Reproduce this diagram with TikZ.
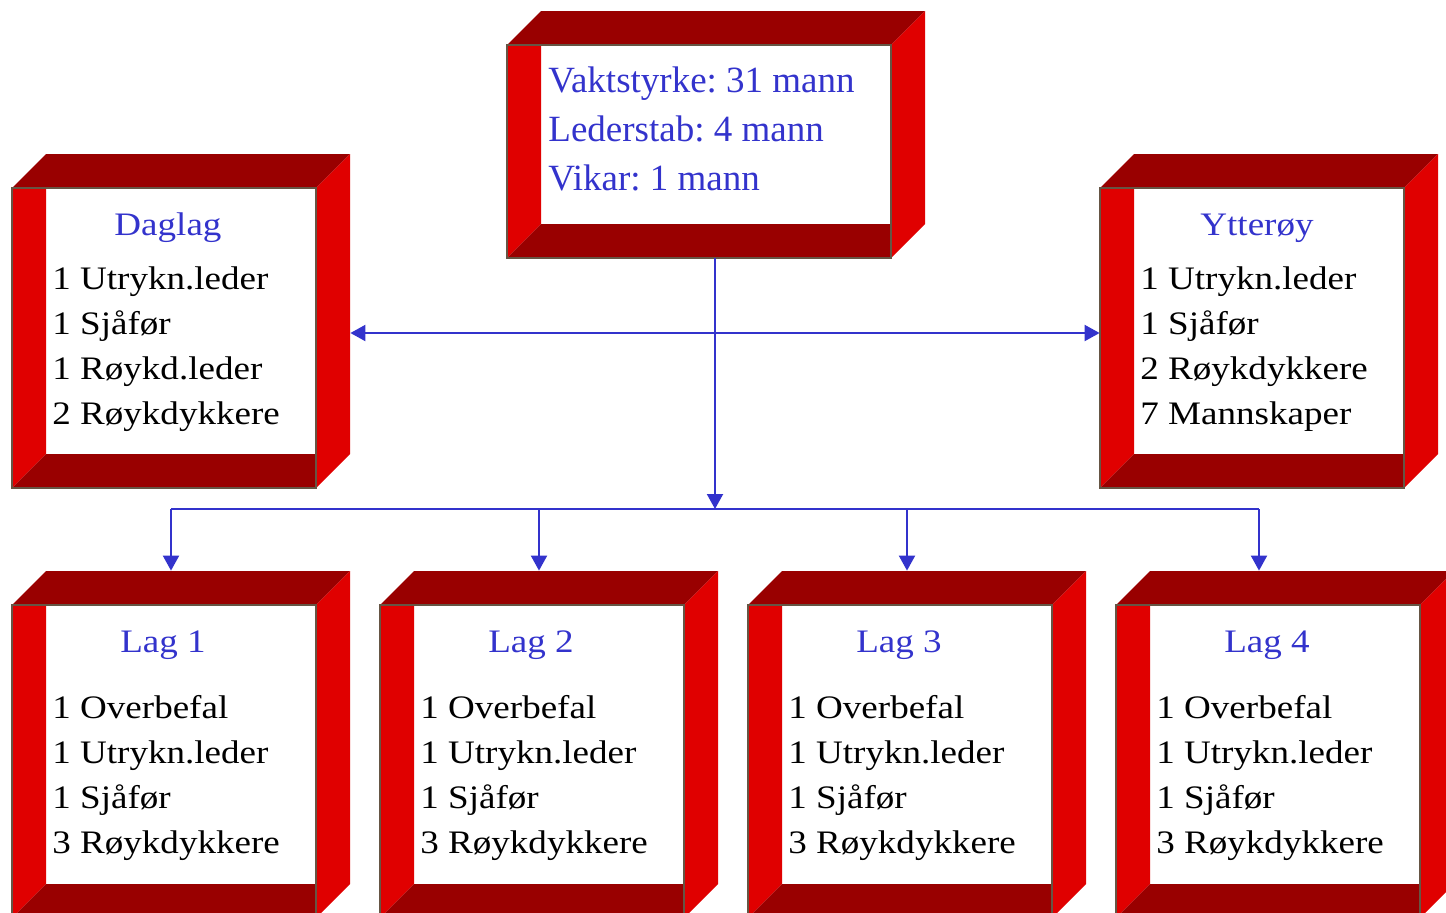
\documentclass[tikz,border=0pt]{standalone}
\usepackage{fontspec}
\usepackage{xcolor}
\usepackage{tikz}
\usetikzlibrary{arrows.meta,fit}
\setmainfont{Liberation Serif}
\newfontfamily\wideserif[FakeStretch=1.13]{Liberation Serif}
\frenchspacing

\definecolor{sidered}{HTML}{E00000}
\definecolor{topred}{HTML}{990000}
\definecolor{rimbrown}{HTML}{665544}
\definecolor{crewblue}{HTML}{3333CC}

\tikzset{
  rim/.style={draw=rimbrown, line width=1pt},
  link/.style={draw=crewblue, line width=1pt},
  linkarrow/.style={link, -{Triangle[length=7.5pt,width=8pt]}},
  headtxt/.style={text=crewblue, inner sep=0pt, font=\wideserif\fontsize{16.4}{22.5}\selectfont},
  listtxt/.style={inner sep=0pt, font=\wideserif\fontsize{16.4}{22.5}\selectfont},
  toptxt/.style={text=crewblue, inner sep=0pt, font=\fontsize{18.5}{24.5}\selectfont}
}

% #1 name, #2 x, #3 y (front top left), #4 width, #5 height
\newcommand{\redframe}[5]{
  \fill[sidered] (#2,#3) -- (#2+34,#3) -- (#2+34,#3+#5-34) -- (#2,#3+#5) -- cycle;
  \fill[topred] (#2,#3+#5) -- (#2+34,#3+#5-34) -- (#2+#4,#3+#5-34) -- (#2+#4,#3+#5) -- cycle;
  \fill[topred] (#2,#3) -- (#2+34,#3-34) -- (#2+#4+34,#3-34) -- (#2+#4,#3) -- cycle;
  \fill[sidered] (#2+#4,#3) -- (#2+#4+34,#3-34) -- (#2+#4+34,#3+#5-34) -- (#2+#4,#3+#5) -- cycle;
  \draw[rim] (#2,#3) rectangle (#2+#4,#3+#5);
  \coordinate (#1-nw) at (#2,#3-34);
  \coordinate (#1-se) at (#2+#4+34,#3+#5);
  \node[inner sep=0pt, fit=(#1-nw)(#1-se)] (#1) {};
}

\begin{document}
\begin{tikzpicture}[x=0.5pt, y=-0.5pt]
\useasboundingbox (0,0) rectangle (1446,912);
\clip (0,0) rectangle (1446,912);

\redframe{staff}{507}{45}{384}{213}
\redframe{daglag}{12}{188}{304}{300}
\redframe{ytteroy}{1100}{188}{304}{300}
\redframe{lag1}{12}{605}{304}{313}
\redframe{lag2}{380}{605}{304}{313}
\redframe{lag3}{748}{605}{304}{313}
\redframe{lag4}{1116}{605}{304}{313}

\node[toptxt, anchor=base west] (staff-list) at (548,92)
{\begin{tabular}[t]{@{}l@{}}Vaktstyrke: 31 mann\\Lederstab: 4 mann\\Vikar: 1 mann\end{tabular}};

\node[headtxt, anchor=base] (daglag-head) at (168,235) {Daglag};
\node[listtxt, anchor=base west] (daglag-list) at (52,289)
{\begin{tabular}[t]{@{}l@{}}1 Utrykn.leder\\1 Sjåfør\\1 Røykd.leder\\2 Røykdykkere\end{tabular}};

\node[headtxt, anchor=base] (ytteroy-head) at (1257,235) {Ytterøy};
\node[listtxt, anchor=base west] (ytteroy-list) at (1140,289)
{\begin{tabular}[t]{@{}l@{}}1 Utrykn.leder\\1 Sjåfør\\2 Røykdykkere\\7 Mannskaper\end{tabular}};

\foreach \n/\x in {1/12, 2/380, 3/748, 4/1116} {
  \node[headtxt, anchor=base] (lag\n-head) at (\x+151,652) {Lag \n};
  \node[listtxt, anchor=base west] (lag\n-list) at (\x+40,718)
  {\begin{tabular}[t]{@{}l@{}}1 Overbefal\\1 Utrykn.leder\\1 Sjåfør\\3 Røykdykkere\end{tabular}};
}

\coordinate (hub) at (715,333);
\coordinate (bus) at (715,509);
\draw[linkarrow] (staff.south -| hub) -- (bus);
\draw[link, {Triangle[length=7.5pt,width=8pt]}-{Triangle[length=7.5pt,width=8pt]}]
  (daglag.east |- hub) -- (ytteroy.west |- hub);
\draw[link] (171,509) -- (1259,509);
\foreach \n/\x in {1/171, 2/539, 3/907, 4/1259}
  \draw[linkarrow] (\x,509) -- (\x,0 |- lag\n.north);
\end{tikzpicture}
\end{document}
